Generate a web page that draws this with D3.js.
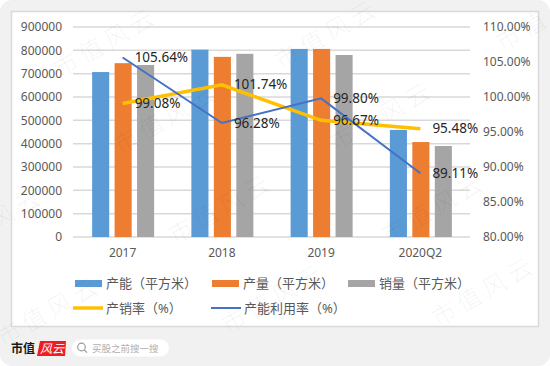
<!DOCTYPE html>
<html>
<head>
<meta charset="utf-8">
<script src="https://cdn.jsdelivr.net/npm/d3@7"></script>
<style>
  html, body { margin: 0; padding: 0; background: #fff; }
  svg { display: block; }
  text { font-family: "Noto Sans", "Noto Sans CJK SC", sans-serif; }
</style>
</head>
<body>
<svg id="chart" width="550" height="366"></svg>
<script>
"use strict";

// values
const categories  = ["2017", "2018", "2019", "2020Q2"];
const capacity    = [707000, 803000, 806000, 459000];
const output      = [745000, 772000, 806000, 407000];
const sales       = [737000, 785000, 780000, 390000];
const salesRate   = [99.08, 101.74, 96.67, 95.48];
const utilisation = [105.64, 96.28, 99.80, 89.11];
const leftTicks   = [0, 100000, 200000, 300000, 400000, 500000, 600000, 700000, 800000, 900000];
const rightTicks  = [80, 85, 90, 95, 100, 105, 110];

const barSeries = [
  { name: "产能（平方米）", values: capacity, color: "#5b9bd5" },
  { name: "产量（平方米）", values: output,   color: "#ed7d31" },
  { name: "销量（平方米）", values: sales,    color: "#a5a5a5" }
];
const lineSeries = [
  { name: "产销率（%）",     values: salesRate,   color: "#ffc000", width: 3.5 },
  { name: "产能利用率（%）", values: utilisation, color: "#4472c4", width: 2 }
];

// layout
const plot = { left: 73, right: 470, top: 27, bottom: 237 };

const svg = d3.select("#chart");

// page background and white card
svg.append("rect").attr("width", 550).attr("height", 366).attr("rx", 12).attr("fill", "#f1f1f1");
svg.append("rect")
    .attr("x", 11.5).attr("y", 11.5).attr("width", 527).attr("height", 315)
    .attr("fill", "#fff").attr("stroke", "#d9d9d9").attr("stroke-width", 1.5);

// scales
const x = d3.scaleBand().domain(categories).range([plot.left, plot.right]);
const xBar = d3.scaleBand()
    .domain(d3.range(barSeries.length))
    .range([0, 62])
    .paddingInner(0.24);
const yLeft = d3.scaleLinear().domain([0, 900000]).range([plot.bottom, plot.top]);
const yRight = d3.scaleLinear().domain([80, 110]).range([plot.bottom, plot.top]);

// gridlines
svg.append("g").selectAll("line")
    .data(leftTicks)
  .enter().append("line")
    .attr("x1", plot.left).attr("x2", plot.right)
    .attr("y1", (d) => yLeft(d)).attr("y2", (d) => yLeft(d))
    .attr("stroke", "#d9d9d9").attr("stroke-width", 1.5);

// axes
const leftAxis = svg.append("g")
    .attr("transform", "translate(" + plot.left + ",0)")
    .call(d3.axisLeft(yLeft).tickValues(leftTicks).tickFormat(d3.format("d")).tickSize(0).tickPadding(11));
const rightAxis = svg.append("g")
    .attr("transform", "translate(" + plot.right + ",0)")
    .call(d3.axisRight(yRight).tickValues(rightTicks).tickFormat((d) => d.toFixed(2) + "%").tickSize(0).tickPadding(13));
const bottomAxis = svg.append("g")
    .attr("transform", "translate(0," + plot.bottom + ")")
    .call(d3.axisBottom(x).tickSize(0).tickPadding(11));

[leftAxis, rightAxis, bottomAxis].forEach((axis) => {
  axis.select(".domain").remove();
  axis.selectAll("text")
      .attr("fill", "#595959")
      .style("font-size", "12px")
      .style("font-family", '"Noto Sans", sans-serif');
});

// bars
const groups = svg.selectAll(".bargroup")
    .data(barSeries)
  .enter().append("g")
    .attr("class", "bargroup")
    .attr("fill", (d) => d.color);
groups.selectAll("rect")
    .data((d, i) => d.values.map((v, j) => ({ v: v, cat: categories[j], s: i })))
  .enter().append("rect")
    .attr("x", (d) => x(d.cat) + x.bandwidth() / 2 - 30.5 + xBar(d.s))
    .attr("width", xBar.bandwidth())
    .attr("y", (d) => yLeft(d.v))
    .attr("height", (d) => plot.bottom - yLeft(d.v));

// lines
const line = d3.line()
    .x((d, i) => x(categories[i]) + x.bandwidth() / 2)
    .y((d) => yRight(d));
svg.selectAll(".rateline")
    .data(lineSeries)
  .enter().append("path")
    .attr("class", "rateline")
    .attr("fill", "none")
    .attr("stroke", (d) => d.color)
    .attr("stroke-width", (d) => d.width)
    .attr("d", (d) => line(d.values));

// data labels
lineSeries.forEach((s) => {
  svg.append("g").selectAll("text")
      .data(s.values)
    .enter().append("text")
      .attr("x", (d, i) => x(categories[i]) + x.bandwidth() / 2 + 12)
      .attr("y", (d) => yRight(d) + 1)
      .attr("dominant-baseline", "middle")
      .attr("fill", "#262626")
      .style("font-size", "13.5px")
      .text((d) => d.toFixed(2) + "%");
});

// legend
const legendBars = [75, 212, 348];
barSeries.forEach((s, i) => {
  svg.append("rect")
      .attr("x", legendBars[i]).attr("y", 280)
      .attr("width", 27).attr("height", 7)
      .attr("fill", s.color);
  svg.append("text")
      .attr("x", legendBars[i] + 31).attr("y", 288)
      .attr("fill", "#595959").style("font-size", "13px")
      .text(s.name);
});
const legendLines = [73, 211];
lineSeries.forEach((s, i) => {
  svg.append("line")
      .attr("x1", legendLines[i]).attr("x2", legendLines[i] + 30)
      .attr("y1", 308).attr("y2", 308)
      .attr("stroke", s.color).attr("stroke-width", s.width);
  svg.append("text")
      .attr("x", legendLines[i] + 33).attr("y", 313)
      .attr("fill", "#595959").style("font-size", "13px")
      .text(s.name);
});

// watermark, the ones at the page edge only show the part that fits
const marks = [
  [107, 44, "市值风云"], [167, 120, "市值风云"], [222, 210, "市值风云"], [275, 300, "市值风云"],
  [328, 36, "市值风云"], [383, 118, "市值风云"], [435, 210, "市值风云"], [485, 293, "市值风云"],
  [524, 32, "市值"], [18, 210, "风云"], [50, 313, "市值风云"]
];
svg.append("g").selectAll("text")
    .data(marks)
  .enter().append("text")
    .attr("transform", (d) => "translate(" + d[0] + "," + d[1] + ") rotate(-30)")
    .attr("text-anchor", "middle")
    .attr("dominant-baseline", "middle")
    .attr("fill", "#000").attr("fill-opacity", 0.06)
    .style("font-size", "24px")
    .style("font-weight", 300)
    .style("letter-spacing", "5px")
    .text((d) => d[2]);

// footer logo
svg.append("text")
    .attr("x", 11).attr("y", 353)
    .attr("fill", "#1a1a1a")
    .style("font-size", "12px").style("font-weight", 700)
    .text("市值");
svg.append("path")
    .attr("d", "M40 341H66L65 356H37Z")
    .attr("fill", "#ee1c25");
svg.append("text")
    .attr("x", 40).attr("y", 353)
    .attr("fill", "#fff")
    .style("font-size", "12px").style("font-style", "italic")
    .text("风云");

// search pill
svg.append("rect")
    .attr("x", 72).attr("y", 339.5).attr("width", 97).attr("height", 17).attr("rx", 8.5)
    .attr("fill", "#fff");
svg.append("circle")
    .attr("cx", 81.5).attr("cy", 347).attr("r", 3.8)
    .attr("fill", "none").attr("stroke", "#9a9a9a").attr("stroke-width", 1.2);
svg.append("line")
    .attr("x1", 84.3).attr("y1", 350).attr("x2", 87).attr("y2", 352.6)
    .attr("stroke", "#9a9a9a").attr("stroke-width", 1.2);
svg.append("text")
    .attr("x", 92).attr("y", 352)
    .attr("fill", "#b0b0b0").style("font-size", "9.5px")
    .text("买股之前搜一搜");
</script>
</body>
</html>
